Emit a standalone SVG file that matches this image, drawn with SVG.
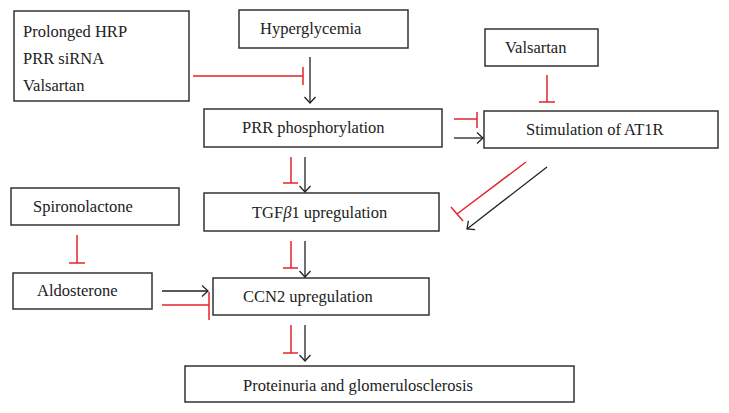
<svg xmlns="http://www.w3.org/2000/svg" width="729" height="413" viewBox="0 0 729 413">
<defs>
<style>
.box{fill:#fff;stroke:#333;stroke-width:1.5}
.t{font-family:"Liberation Serif","Times New Roman",serif;font-size:16.5px;fill:#222}
.blk{stroke:#222;stroke-width:1.3;fill:none}
.red{stroke:#e3262c;stroke-width:1.5;fill:none}
</style>
<marker id="ah" markerUnits="userSpaceOnUse" markerWidth="14" markerHeight="14" refX="7" refY="6" orient="auto" viewBox="0 0 14 12">
<path d="M1,0.5 L7,6 L1,11.5" fill="none" stroke="#222" stroke-width="1.3"/>
</marker>
</defs>
<rect width="729" height="413" fill="#fff"/>

<g id="n-inhibitors"><rect class="box" x="14" y="11" width="175" height="90"/>
<text class="t" x="23" y="37">Prolonged HRP</text>
<text class="t" x="23" y="64">PRR siRNA</text>
<text class="t" x="23" y="91">Valsartan</text></g>

<g id="n-hyperglycemia"><rect class="box" x="239" y="10" width="169" height="38"/>
<text class="t" x="260" y="34">Hyperglycemia</text></g>

<g id="n-valsartan"><rect class="box" x="485" y="29" width="113" height="37"/>
<text class="t" x="505" y="53">Valsartan</text></g>

<g id="n-prr"><rect class="box" x="204" y="109" width="238" height="38"/>
<text class="t" x="242" y="133">PRR phosphorylation</text></g>

<g id="n-at1r"><rect class="box" x="484" y="111" width="234" height="37"/>
<text class="t" x="526" y="135">Stimulation of AT1R</text></g>

<g id="n-tgf"><rect class="box" x="204" y="193" width="235" height="38"/>
<text class="t" x="252" y="218">TGF<tspan font-style="italic">β</tspan>1 upregulation</text></g>

<g id="n-spiro"><rect class="box" x="11" y="188" width="168" height="37"/>
<text class="t" x="33" y="212">Spironolactone</text></g>

<g id="n-aldo"><rect class="box" x="13" y="273" width="139" height="36"/>
<text class="t" x="37" y="296">Aldosterone</text></g>

<g id="n-ccn2"><rect class="box" x="213" y="278" width="216" height="37"/>
<text class="t" x="243" y="302">CCN2 upregulation</text></g>

<g id="n-prot"><rect class="box" x="185" y="366" width="389" height="36"/>
<text class="t" x="243" y="391">Proteinuria and glomerulosclerosis</text></g>

<g id="connectors">
<!-- inhibitors -> PRR -->
<path class="red" d="M193,76 H303 M303,67 V85"/>
<path class="blk" d="M310,57 V103" marker-end="url(#ah)"/>
<!-- valsartan -| AT1R -->
<path class="red" d="M547,75 V102 M539,102 H555"/>
<!-- PRR -> AT1R -->
<path class="red" d="M454,119 H477 M477,112 V128"/>
<path class="blk" d="M454,138 H483" marker-end="url(#ah)"/>
<!-- AT1R -> TGF diagonals -->
<path class="red" d="M526,162 L457,214 M451,207 L463,221"/>
<path class="blk" d="M547,167 L467,229" marker-end="url(#ah)"/>
<!-- PRR -> TGF -->
<path class="red" d="M291,157 V183 M283,183 H298"/>
<path class="blk" d="M305,157 V192" marker-end="url(#ah)"/>
<!-- TGF -> CCN2 -->
<path class="red" d="M291,241 V268 M283,268 H298"/>
<path class="blk" d="M305,241 V277" marker-end="url(#ah)"/>
<!-- Spiro -| Aldo -->
<path class="red" d="M77,235 V263 M69,263 H85"/>
<!-- Aldo -> CCN2 -->
<path class="blk" d="M162,291 H208" marker-end="url(#ah)"/>
<path class="red" d="M162,305 H209 M209,292 V320"/>
<!-- CCN2 -> Proteinuria -->
<path class="red" d="M291,325 V353 M283,353 H298"/>
<path class="blk" d="M305,325 V361" marker-end="url(#ah)"/>
</g>
</svg>
